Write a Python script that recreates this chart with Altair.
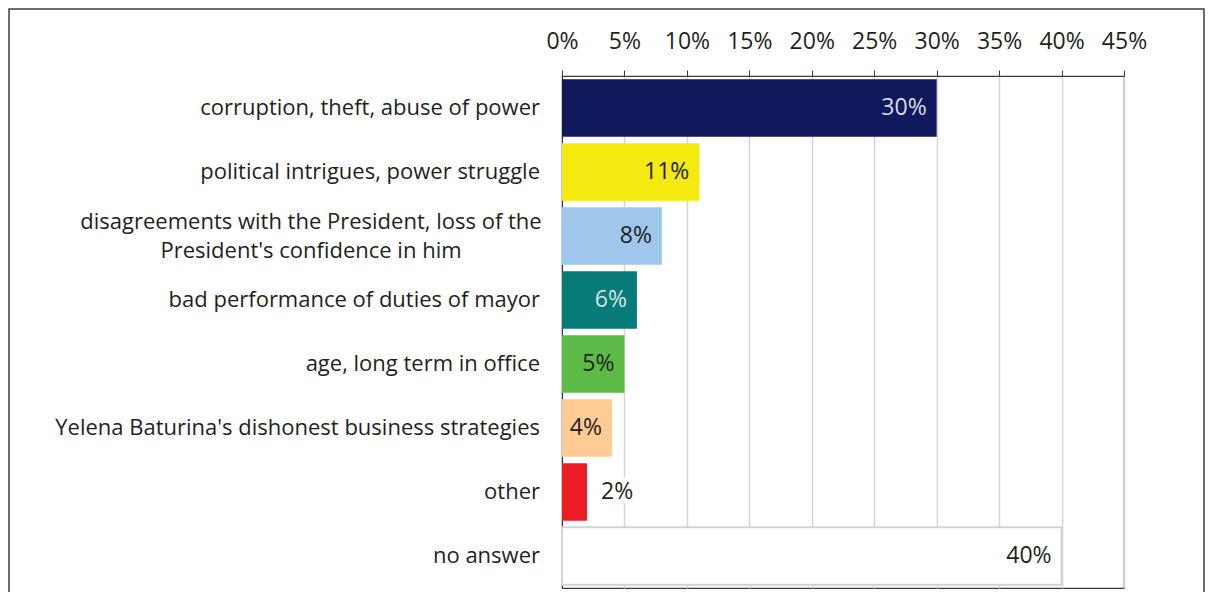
import altair as alt
import pandas as pd

categories = [
    "corruption, theft, abuse of power",
    "political intrigues, power struggle",
    "disagreements with the President, loss of the",
    "bad performance of duties of mayor",
    "age, long term in office",
    "Yelena Baturina's dishonest business strategies",
    "other",
    "no answer",
]
second_lines = ["", "", "President's confidence in him", "", "", "", "", ""]
values = [0.30, 0.11, 0.08, 0.06, 0.05, 0.04, 0.02, 0.40]
bar_colors = ["#0f195c", "#f4ea0f", "#9fc7eb", "#077b77", "#5cba47", "#fecb95", "#ec1c24", "#ffffff"]
label_colors = ["#dcdcdc", "#231f20", "#231f20", "#d3e6e3", "#231f20", "#231f20", "#231f20", "#231f20"]
x_ticks = [0.0, 0.05, 0.10, 0.15, 0.20, 0.25, 0.30, 0.35, 0.40, 0.45]

df = pd.DataFrame({
    "line1": categories,
    "line2": second_lines,
    "pct": values,
    "order": list(range(len(categories))),
    "barcolor": bar_colors,
    "labcolor": label_colors,
    "label": [f"{round(v * 100)}%" for v in values],
})

FONT = "Open Sans"
FS = 22
TFS = 23
DARK = "#231f20"

x = alt.X("pct:Q",
          scale=alt.Scale(domain=[0, 0.45]),
          axis=alt.Axis(title=None, orient="top", values=x_ticks, format=".0%",
                        grid=True, gridColor="#d4d4d4", gridWidth=1.5,
                        domainColor="#3a3a3a", tickColor="#3a3a3a", tickSize=6,
                        labelPadding=17, labelFontSize=TFS, labelFont=FONT,
                        labelColor=DARK, labelAngle=0, labelFlush=False))
y = alt.Y("order:O",
          axis=alt.Axis(title=None, labels=False, ticks=False, grid=False,
                        domainColor="#3a3a3a"))

base = alt.Chart(df)

bars = base.mark_bar(aria=False).encode(
    x=x, y=y,
    color=alt.Color("barcolor:N", scale=None, legend=None),
)

outline = base.transform_filter("datum.pct >= 0.4").mark_bar(
    aria=False, fill="#ffffff", stroke="#d3d3d3", strokeWidth=2
).encode(x=x, y=y)

text_in = base.transform_filter("datum.pct >= 0.035").mark_text(
    aria=False, align="right", dx=-10, fontSize=TFS, font=FONT, baseline="middle"
).encode(x=x, y=y, text="label:N", color=alt.Color("labcolor:N", scale=None, legend=None))

halo = base.transform_filter("datum.pct < 0.035").mark_text(
    aria=False, align="left", dx=14, fontSize=TFS, font=FONT, baseline="middle",
    stroke="#ffffff", strokeWidth=10, color="#ffffff"
).encode(x=x, y=y, text="label:N")

text_out = base.transform_filter("datum.pct < 0.035").mark_text(
    aria=False, align="left", dx=14, fontSize=TFS, font=FONT, baseline="middle", color=DARK
).encode(x=x, y=y, text="label:N")

cat_single = base.transform_filter("datum.line2 == ''").mark_text(
    aria=False, align="right", fontSize=FS, font=FONT, baseline="middle", color=DARK
).encode(x=alt.value(-22), y=y, text="line1:N")

cat_top = base.transform_filter("datum.line2 != ''").mark_text(
    aria=False, align="center", dy=-14.5, fontSize=FS, font=FONT, baseline="middle", color=DARK
).encode(x=alt.value(-251), y=y, text="line1:N")

cat_bottom = base.transform_filter("datum.line2 != ''").mark_text(
    aria=False, align="center", dy=14.5, fontSize=FS, font=FONT, baseline="middle", color=DARK
).encode(x=alt.value(-251), y=y, text="line2:N")

frame = base.transform_filter("datum.pct >= 0.4").mark_rect(
    aria=False, fillOpacity=0, stroke="#3c3c3c", strokeWidth=1.5
).encode(x=alt.value(-553), x2=alt.value(642), y=alt.value(-67), y2=alt.value(560))

chart = alt.layer(bars, outline, text_in, halo, text_out,
                  cat_single, cat_top, cat_bottom, frame).properties(
    width=562, height=512,
    padding={"left": 554, "top": 68, "right": 81, "bottom": 4},
    autosize=alt.AutoSizeParams(type="none"),
).configure_view(stroke="#3a3a3a", strokeWidth=1.2)

chart.save("out.html", embed_options={"renderer": "svg", "actions": False})
